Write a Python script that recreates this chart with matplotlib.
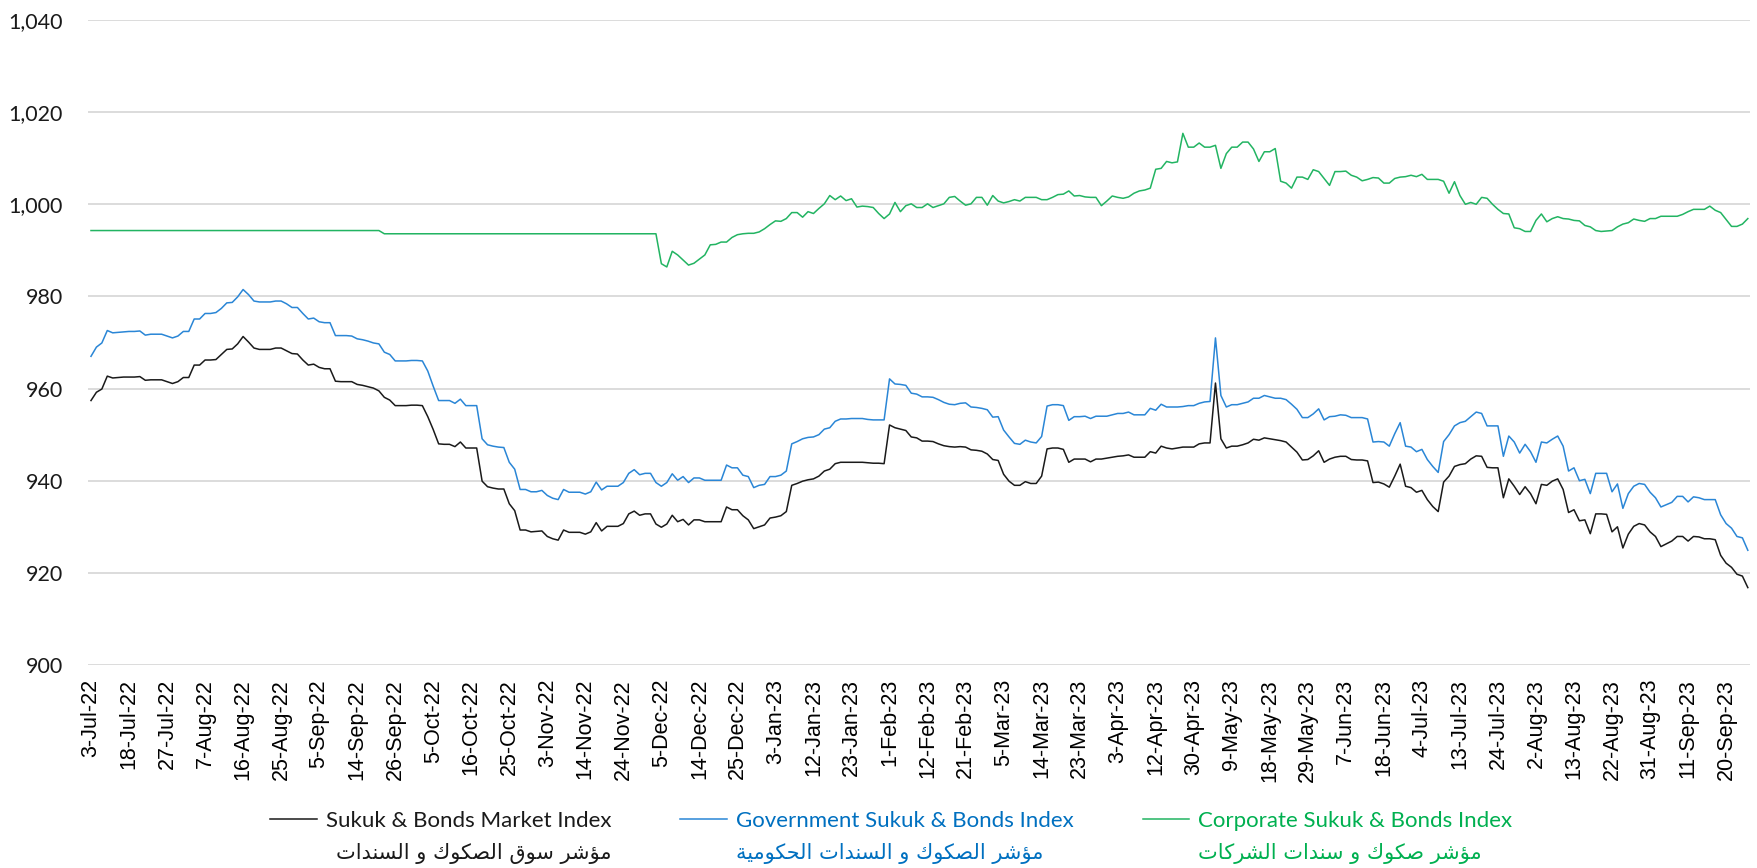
import numpy as np
import matplotlib
matplotlib.use("Agg")
import matplotlib.pyplot as plt
from matplotlib.lines import Line2D
from matplotlib.ticker import FuncFormatter

# tick labels, one every 7 trading days
tick_labels = ["3-Jul-22", "18-Jul-22", "27-Jul-22", "7-Aug-22", "16-Aug-22", "25-Aug-22",
               "5-Sep-22", "14-Sep-22", "26-Sep-22", "5-Oct-22", "16-Oct-22", "25-Oct-22",
               "3-Nov-22", "14-Nov-22", "24-Nov-22", "5-Dec-22", "14-Dec-22", "25-Dec-22",
               "3-Jan-23", "12-Jan-23", "23-Jan-23", "1-Feb-23", "12-Feb-23", "21-Feb-23",
               "5-Mar-23", "14-Mar-23", "23-Mar-23", "3-Apr-23", "12-Apr-23", "30-Apr-23",
               "9-May-23", "18-May-23", "29-May-23", "7-Jun-23", "18-Jun-23", "4-Jul-23",
               "13-Jul-23", "24-Jul-23", "2-Aug-23", "13-Aug-23", "22-Aug-23", "31-Aug-23",
               "11-Sep-23", "20-Sep-23"]

market = [
    957.4, 959.2, 959.9, 962.7, 962.3, 962.4, 962.5, 962.5, 962.5, 962.6,
    961.8, 961.9, 961.9, 961.9, 961.5, 961.1, 961.5, 962.4, 962.4, 965.1,
    965.1, 966.2, 966.2, 966.3, 967.4, 968.5, 968.6, 969.7, 971.3, 970.1,
    968.8, 968.5, 968.5, 968.5, 968.8, 968.8, 968.2, 967.6, 967.5, 966.2,
    965.1, 965.3, 964.6, 964.3, 964.3, 961.6, 961.5, 961.5, 961.5, 960.9,
    960.7, 960.4, 960.1, 959.5, 958.1, 957.5, 956.3, 956.3, 956.3, 956.4,
    956.4, 956.3, 953.9, 951.1, 948.0, 947.9, 947.9, 947.4, 948.4, 947.1,
    947.1, 947.1, 939.9, 938.7, 938.4, 938.2, 938.2, 935.0, 933.5, 929.3,
    929.3, 928.9, 929.0, 929.1, 927.9, 927.4, 927.1, 929.3, 928.8, 928.8,
    928.8, 928.4, 928.9, 930.9, 929.1, 930.1, 930.1, 930.1, 930.7, 932.8,
    933.4, 932.5, 932.8, 932.8, 930.6, 929.9, 930.6, 932.5, 931.1, 931.6,
    930.4, 931.5, 931.5, 931.1, 931.1, 931.1, 931.1, 934.3, 933.7, 933.7,
    932.4, 931.5, 929.6, 930.0, 930.4, 931.9, 932.1, 932.4, 933.3, 939.0,
    939.4, 939.9, 940.2, 940.4, 941.0, 942.1, 942.5, 943.7, 944.0, 944.0,
    944.0, 944.0, 944.0, 943.9, 943.8, 943.8, 943.7, 952.1, 951.5, 951.2,
    950.9, 949.5, 949.3, 948.6, 948.6, 948.5, 948.0, 947.6, 947.4, 947.3,
    947.4, 947.3, 946.7, 946.6, 946.4, 945.8, 944.6, 944.4, 941.4, 939.9,
    939.0, 939.0, 939.8, 939.4, 939.4, 941.0, 946.9, 947.1, 947.1, 946.8,
    944.0, 944.7, 944.7, 944.7, 944.1, 944.7, 944.7, 944.9, 945.1, 945.3,
    945.4, 945.6, 945.1, 945.1, 945.1, 946.3, 946.0, 947.5, 947.1, 946.9,
    947.1, 947.3, 947.3, 947.3, 948.0, 948.2, 948.2, 961.2, 949.1, 947.1,
    947.5, 947.5, 947.8, 948.2, 949.0, 948.8, 949.3, 949.1, 948.9, 948.7,
    948.4, 947.3, 946.2, 944.5, 944.6, 945.4, 946.5, 944.0, 944.7, 945.1,
    945.3, 945.3, 944.6, 944.5, 944.5, 944.3, 939.6, 939.7, 939.3, 938.6,
    941.0, 943.6, 938.8, 938.5, 937.5, 937.9, 935.9, 934.4, 933.3, 939.7,
    941.0, 943.1, 943.5, 943.7, 944.7, 945.4, 945.3, 942.9, 942.8, 942.8,
    936.3, 940.4, 938.8, 937.0, 938.7, 937.2, 935.0, 939.2, 939.0, 939.9,
    940.4, 938.1, 933.1, 933.7, 931.3, 931.5, 928.5, 932.8, 932.8, 932.7,
    928.9, 930.0, 925.4, 928.4, 930.1, 930.7, 930.4, 928.9, 927.9, 925.7,
    926.3, 926.9, 927.9, 927.9, 926.9, 927.9, 927.8, 927.4, 927.4, 927.2,
    923.8, 922.1, 921.2, 919.7, 919.3, 916.8]

government = [
    967.0, 969.0, 969.9, 972.6, 972.1, 972.2, 972.3, 972.4, 972.4, 972.5,
    971.6, 971.8, 971.8, 971.8, 971.4, 971.0, 971.4, 972.4, 972.4, 975.1,
    975.1, 976.3, 976.3, 976.5, 977.4, 978.6, 978.7, 979.9, 981.5, 980.4,
    979.0, 978.8, 978.8, 978.8, 979.0, 979.0, 978.4, 977.6, 977.6, 976.3,
    975.1, 975.3, 974.5, 974.3, 974.3, 971.5, 971.5, 971.5, 971.4, 970.8,
    970.6, 970.3, 969.9, 969.7, 967.9, 967.4, 966.0, 966.0, 966.0, 966.1,
    966.1, 966.0, 963.8, 960.5, 957.4, 957.4, 957.4, 956.8, 957.7, 956.3,
    956.3, 956.3, 949.1, 947.8, 947.5, 947.3, 947.2, 944.0, 942.5, 938.1,
    938.1, 937.6, 937.6, 937.9, 936.8, 936.2, 935.9, 938.1, 937.5, 937.5,
    937.5, 937.1, 937.6, 939.7, 938.0, 938.8, 938.8, 938.8, 939.6, 941.6,
    942.4, 941.3, 941.6, 941.6, 939.6, 938.8, 939.6, 941.5, 940.1, 940.9,
    939.6, 940.6, 940.6, 940.1, 940.1, 940.1, 940.1, 943.4, 942.8, 942.8,
    941.2, 940.9, 938.5, 939.0, 939.2, 940.9, 940.9, 941.2, 942.1, 948.0,
    948.5, 949.1, 949.4, 949.5, 950.0, 951.2, 951.5, 952.9, 953.4, 953.4,
    953.5, 953.5, 953.5, 953.3, 953.2, 953.2, 953.2, 962.1, 961.0, 960.9,
    960.7, 959.0, 958.8, 958.2, 958.2, 958.1, 957.6, 957.0, 956.6, 956.5,
    956.8, 956.9, 956.0, 955.9, 955.7, 955.4, 953.8, 953.9, 951.0, 949.5,
    948.1, 947.9, 948.8, 948.4, 948.2, 949.6, 956.2, 956.5, 956.5, 956.3,
    953.1, 953.9, 953.9, 954.0, 953.5, 954.0, 954.0, 954.0, 954.3, 954.6,
    954.6, 954.9, 954.3, 954.3, 954.3, 955.7, 955.3, 956.6, 956.0, 956.0,
    956.0, 956.1, 956.3, 956.3, 956.8, 957.1, 957.2, 971.0, 958.5, 956.0,
    956.5, 956.5, 956.8, 957.1, 957.9, 957.9, 958.5, 958.2, 957.9, 957.9,
    957.6, 956.6, 955.5, 953.7, 953.7, 954.5, 955.6, 953.2, 953.9, 954.0,
    954.3, 954.2, 953.7, 953.7, 953.7, 953.4, 948.4, 948.5, 948.4, 947.5,
    950.2, 952.6, 947.5, 947.3, 946.3, 946.8, 944.6, 943.1, 941.8, 948.5,
    950.0, 951.9, 952.6, 952.9, 953.9, 954.9, 954.6, 951.9, 951.9, 951.9,
    945.3, 949.7, 948.4, 946.0, 947.9, 946.3, 944.0, 948.4, 948.2, 949.0,
    949.7, 947.5, 942.1, 942.8, 940.0, 940.3, 937.2, 941.6, 941.6, 941.6,
    937.6, 939.3, 934.0, 937.2, 938.8, 939.4, 939.2, 937.5, 936.3, 934.3,
    934.8, 935.3, 936.6, 936.6, 935.4, 936.5, 936.3, 935.9, 935.9, 935.9,
    932.6, 930.7, 929.7, 927.9, 927.6, 924.9]

corporate = [
    994.3, 994.3, 994.3, 994.3, 994.3, 994.3, 994.3, 994.3, 994.3, 994.3,
    994.3, 994.3, 994.3, 994.3, 994.3, 994.3, 994.3, 994.3, 994.3, 994.3,
    994.3, 994.3, 994.3, 994.3, 994.3, 994.3, 994.3, 994.3, 994.3, 994.3,
    994.3, 994.3, 994.3, 994.3, 994.3, 994.3, 994.3, 994.3, 994.3, 994.3,
    994.3, 994.3, 994.3, 994.3, 994.3, 994.3, 994.3, 994.3, 994.3, 994.3,
    994.3, 994.3, 994.3, 994.3, 993.6, 993.6, 993.6, 993.6, 993.6, 993.6,
    993.6, 993.6, 993.6, 993.6, 993.6, 993.6, 993.6, 993.6, 993.6, 993.6,
    993.6, 993.6, 993.6, 993.6, 993.6, 993.6, 993.6, 993.6, 993.6, 993.6,
    993.6, 993.6, 993.6, 993.6, 993.6, 993.6, 993.6, 993.6, 993.6, 993.6,
    993.6, 993.6, 993.6, 993.6, 993.6, 993.6, 993.6, 993.6, 993.6, 993.6,
    993.6, 993.6, 993.6, 993.6, 993.6, 987.1, 986.4, 989.8, 989.0, 987.9,
    986.8, 987.2, 988.1, 989.0, 991.2, 991.3, 991.8, 991.8, 992.8, 993.4,
    993.6, 993.7, 993.7, 994.0, 994.7, 995.6, 996.4, 996.3, 996.9, 998.2,
    998.2, 997.2, 998.4, 998.0, 999.1, 1000.1, 1001.9, 1001.0, 1001.8, 1000.8,
    1001.2, 999.4, 999.6, 999.5, 999.3, 998.0, 996.9, 997.9, 1000.4, 998.4,
    999.7, 1000.1, 999.3, 999.3, 1000.1, 999.3, 999.7, 1000.1, 1001.5, 1001.7,
    1000.7, 999.8, 1000.1, 1001.5, 1001.5, 999.8, 1001.9, 1000.7, 1000.3, 1000.6,
    1001.0, 1000.7, 1001.5, 1001.5, 1001.5, 1001.0, 1001.0, 1001.5, 1002.1, 1002.2,
    1002.9, 1001.8, 1001.9, 1001.6, 1001.5, 1001.5, 999.7, 1000.7, 1001.8, 1001.5,
    1001.3, 1001.6, 1002.4, 1002.9, 1003.1, 1003.5, 1007.6, 1007.8, 1009.3, 1009.0,
    1009.2, 1015.4, 1012.4, 1012.4, 1013.3, 1012.4, 1012.4, 1012.8, 1007.8, 1011.0,
    1012.4, 1012.4, 1013.5, 1013.5, 1012.0, 1009.3, 1011.4, 1011.4, 1012.1, 1005.0,
    1004.6, 1003.5, 1005.9, 1005.9, 1005.4, 1007.5, 1007.1, 1005.6, 1004.1, 1007.1,
    1007.1, 1007.2, 1006.3, 1005.9, 1005.1, 1005.4, 1005.8, 1005.7, 1004.6, 1004.6,
    1005.6, 1005.9, 1006.0, 1006.3, 1006.0, 1006.5, 1005.4, 1005.4, 1005.4, 1005.0,
    1002.4, 1004.9, 1001.9, 1000.0, 1000.4, 1000.0, 1001.5, 1001.3, 1000.0, 998.9,
    998.0, 997.9, 994.9, 994.7, 994.1, 994.1, 996.5, 997.9, 996.2, 996.9,
    997.3, 996.9, 996.8, 996.5, 996.4, 995.4, 995.1, 994.3, 994.1, 994.2,
    994.3, 995.1, 995.7, 996.0, 996.8, 996.5, 996.3, 996.9, 996.9, 997.4,
    997.4, 997.4, 997.4, 997.8, 998.4, 998.9, 998.9, 998.9, 999.6, 998.7,
    998.2, 996.7, 995.2, 995.2, 995.7, 996.9]

names_en = ["Sukuk & Bonds Market Index", "Government Sukuk & Bonds Index",
            "Corporate Sukuk & Bonds Index"]
names_ar = ["مؤشر سوق الصكوك و السندات", "مؤشر الصكوك و السندات الحكومية",
            "مؤشر صكوك و سندات الشركات"]

line_colors = ["#1a1a1a", "#2a86d6", "#22b462"]
text_colors = ["#1a1a1a", "#0070c0", "#00b050"]

# arabic contextual forms: isolated, final, initial, medial
FORMS = {
    "\u0627": ("\uFE8D", "\uFE8E", None, None),
    "\u0624": ("\uFE85", "\uFE86", None, None),
    "\u0629": ("\uFE93", "\uFE94", None, None),
    "\u062A": ("\uFE95", "\uFE96", "\uFE97", "\uFE98"),
    "\u062D": ("\uFEA1", "\uFEA2", "\uFEA3", "\uFEA4"),
    "\u062F": ("\uFEA9", "\uFEAA", None, None),
    "\u0631": ("\uFEAD", "\uFEAE", None, None),
    "\u0633": ("\uFEB1", "\uFEB2", "\uFEB3", "\uFEB4"),
    "\u0634": ("\uFEB5", "\uFEB6", "\uFEB7", "\uFEB8"),
    "\u0635": ("\uFEB9", "\uFEBA", "\uFEBB", "\uFEBC"),
    "\u0642": ("\uFED5", "\uFED6", "\uFED7", "\uFED8"),
    "\u0643": ("\uFED9", "\uFEDA", "\uFEDB", "\uFEDC"),
    "\u0644": ("\uFEDD", "\uFEDE", "\uFEDF", "\uFEE0"),
    "\u0645": ("\uFEE1", "\uFEE2", "\uFEE3", "\uFEE4"),
    "\u0646": ("\uFEE5", "\uFEE6", "\uFEE7", "\uFEE8"),
    "\u0648": ("\uFEED", "\uFEEE", None, None),
    "\u064A": ("\uFEF1", "\uFEF2", "\uFEF3", "\uFEF4"),
}


def shape_arabic(s):
    out = []
    for i, c in enumerate(s):
        if c not in FORMS:
            out.append(c)
            continue
        prev = s[i - 1] if i > 0 else ""
        nxt = s[i + 1] if i + 1 < len(s) else ""
        join_prev = prev in FORMS and FORMS[prev][2] is not None
        join_next = FORMS[c][2] is not None and nxt in FORMS
        iso, fin, ini, med = FORMS[c]
        if join_prev and join_next:
            out.append(med)
        elif join_prev:
            out.append(fin)
        elif join_next:
            out.append(ini)
        else:
            out.append(iso)
    return "".join(reversed(out))


W, H = 1758, 868
fig = plt.figure(figsize=(W / 100, H / 100), dpi=100)
ax = fig.add_axes([88 / W, 1 - 665 / H, (1750 - 88) / W, (665 - 20) / H])

x = np.arange(len(market))
for series, col in zip([market, government, corporate], line_colors):
    ax.plot(x, series, color=col, lw=1.1)

ax.set_xlim(-0.55, len(market) - 0.6)
ax.set_ylim(900, 1040)
ax.set_yticks(np.arange(900, 1041, 20))
ax.yaxis.set_major_formatter(FuncFormatter(lambda v, p: "{:,.0f}".format(v)))
ax.yaxis.grid(True, color="#d9d9d9", lw=1.3)
ax.set_axisbelow(True)
for s in ax.spines.values():
    s.set_visible(False)

ax.set_xticks(np.arange(0, 7 * len(tick_labels), 7))
ax.set_xticklabels(tick_labels, rotation=90, fontsize=15.5, family="Liberation Sans")
ax.tick_params(axis="x", length=0, pad=10)
ax.tick_params(axis="y", length=0, pad=18, labelsize=15.5, labelcolor="#1a1a1a")
for t in ax.get_yticklabels():
    t.set_family("Lato")

handles = [Line2D([], [], color=c, lw=1.1) for c in line_colors]
leg = fig.legend(handles, names_en, loc="center", ncol=3, frameon=False,
                 bbox_to_anchor=(0.507, 1 - 821 / H), bbox_transform=fig.transFigure,
                 prop={"family": "Lato", "size": 16}, labelcolor=text_colors,
                 handlelength=2.1, handletextpad=0.4, columnspacing=3.1)

fig.canvas.draw()
renderer = fig.canvas.get_renderer()
for i, t in enumerate(leg.get_texts()):
    bb = t.get_window_extent(renderer)
    yc = (bb.y0 + bb.y1) / 2 - 33
    if i == 0:
        xa, ha = bb.x1, "right"
    else:
        xa, ha = bb.x0, "left"
    fig.text(xa / W, yc / H, shape_arabic(names_ar[i]), ha=ha, va="center",
             color=text_colors[i], fontsize=15, family="DejaVu Sans")

fig.savefig("out.png", dpi=100)
